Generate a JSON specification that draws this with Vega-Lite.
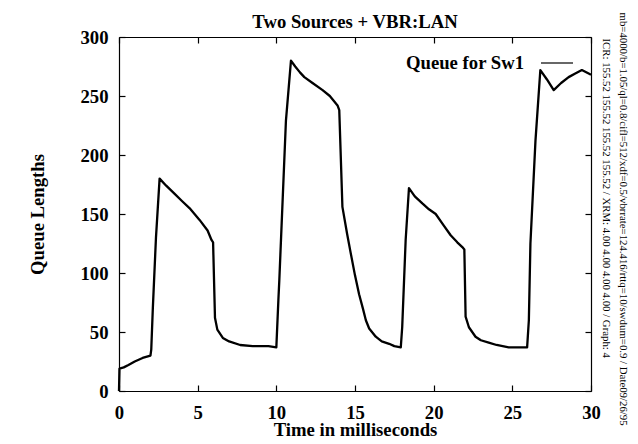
{
  "$schema": "https://vega.github.io/schema/vega-lite/v6.json",
  "width": 472,
  "height": 354,
  "autosize": {"type": "none"},
  "padding": {"left": 119, "top": 37, "right": 47, "bottom": 53},
  "background": "white",
  "view": {"stroke": null},
  "config": {
    "font": "Liberation Serif",
    "axis": {"grid": false, "domainColor": "#000", "tickColor": "#000", "labelColor": "#000", "titleColor": "#000", "tickSize": -6, "domainWidth": 1.2, "tickWidth": 1.2, "labelFlush": false, "labelOverlap": false}
  },
  "title": {"text": "Two Sources + VBR:LAN", "font": "Liberation Serif", "fontSize": 18.7, "fontWeight": "bold", "color": "#000", "anchor": "middle", "frame": "group", "baseline": "alphabetic", "offset": -35},
  "data": {"values": [
    {"t": 0, "q": 0}, {"t": 0.03, "q": 19}, {"t": 0.3, "q": 20}, {"t": 0.6, "q": 22}, {"t": 1.0, "q": 25}, {"t": 1.5, "q": 28}, {"t": 2.0, "q": 30},
    {"t": 2.05, "q": 35}, {"t": 2.15, "q": 70}, {"t": 2.35, "q": 130}, {"t": 2.58, "q": 180}, {"t": 3.0, "q": 174}, {"t": 3.54, "q": 167}, {"t": 4.0, "q": 161}, {"t": 4.48, "q": 155}, {"t": 5.12, "q": 145}, {"t": 5.63, "q": 136}, {"t": 5.88, "q": 128}, {"t": 5.98, "q": 126},
    {"t": 6.1, "q": 62}, {"t": 6.25, "q": 52}, {"t": 6.6, "q": 45}, {"t": 7.0, "q": 42}, {"t": 7.7, "q": 39}, {"t": 8.5, "q": 38}, {"t": 9.5, "q": 38}, {"t": 10.0, "q": 37},
    {"t": 10.13, "q": 77}, {"t": 10.19, "q": 94}, {"t": 10.61, "q": 229}, {"t": 10.93, "q": 280}, {"t": 11.2, "q": 275}, {"t": 11.5, "q": 270}, {"t": 11.78, "q": 266}, {"t": 12.3, "q": 261}, {"t": 12.94, "q": 255}, {"t": 13.4, "q": 250}, {"t": 13.89, "q": 242}, {"t": 14.0, "q": 238},
    {"t": 14.2, "q": 156}, {"t": 14.5, "q": 133}, {"t": 14.74, "q": 116}, {"t": 15.0, "q": 98}, {"t": 15.26, "q": 82}, {"t": 15.5, "q": 70}, {"t": 15.69, "q": 60}, {"t": 15.9, "q": 53}, {"t": 16.32, "q": 46}, {"t": 16.7, "q": 42}, {"t": 17.17, "q": 40}, {"t": 17.5, "q": 38}, {"t": 17.91, "q": 37},
    {"t": 18.0, "q": 54}, {"t": 18.22, "q": 128}, {"t": 18.43, "q": 172}, {"t": 18.8, "q": 165}, {"t": 19.28, "q": 159}, {"t": 19.7, "q": 154}, {"t": 20.13, "q": 150}, {"t": 20.6, "q": 141}, {"t": 21.08, "q": 132}, {"t": 21.5, "q": 126}, {"t": 21.82, "q": 122}, {"t": 21.95, "q": 120},
    {"t": 22.03, "q": 63}, {"t": 22.24, "q": 54}, {"t": 22.66, "q": 46}, {"t": 23.0, "q": 43}, {"t": 23.5, "q": 41}, {"t": 24.0, "q": 39}, {"t": 24.77, "q": 37}, {"t": 25.5, "q": 37}, {"t": 25.94, "q": 37},
    {"t": 26.05, "q": 60}, {"t": 26.15, "q": 125}, {"t": 26.47, "q": 212}, {"t": 26.78, "q": 272}, {"t": 27.2, "q": 264}, {"t": 27.63, "q": 255}, {"t": 28.1, "q": 261}, {"t": 28.58, "q": 266}, {"t": 29.0, "q": 269}, {"t": 29.42, "q": 272}, {"t": 29.85, "q": 269}, {"t": 30, "q": 268}
  ]},
  "layer": [
    {
      "mark": {"type": "line", "strokeWidth": 2.3, "strokeJoin": "round"},
      "encoding": {
        "x": {"field": "t", "type": "quantitative", "scale": {"domain": [0, 30], "nice": false},
          "axis": {"orient": "bottom", "values": [0, 5, 10, 15, 20, 25, 30], "labelFontSize": 18.7, "labelFontWeight": "bold", "labelPadding": 18, "labelBaseline": "top",
            "title": "Time in milliseconds", "titleFontSize": 18.7, "titleFontWeight": "bold", "titleX": 236, "titleY": 44, "titleAlign": "center", "titleBaseline": "alphabetic"}},
        "y": {"field": "q", "type": "quantitative", "scale": {"domain": [0, 300], "nice": false},
          "axis": {"orient": "left", "values": [0, 50, 100, 150, 200, 250, 300], "labelFontSize": 18.7, "labelFontWeight": "bold", "labelPadding": 17,
            "title": "Queue Lengths", "titleFontSize": 18.7, "titleFontWeight": "bold", "titleAngle": -90, "titleX": -82, "titleY": 177, "titleAlign": "center", "titleBaseline": "middle"}},
        "color": {"datum": "Queue for Sw1", "scale": {"range": ["#000"]},
          "legend": {"orient": "none", "legendX": 421, "legendY": 9, "padding": 0, "title": null, "symbolType": "stroke", "symbolSize": 1024, "symbolStrokeWidth": 1.2, "symbolStrokeColor": "#000",
            "labelAlign": "right", "labelOffset": -50, "labelFont": "Liberation Serif", "labelFontSize": 18.7, "labelFontWeight": "bold", "labelColor": "#000", "labelLimit": 300}}
      }
    },
    {
      "mark": {"type": "line", "strokeOpacity": 0},
      "encoding": {
        "x": {"field": "t", "type": "quantitative", "scale": {"domain": [0, 30], "nice": false},
          "axis": {"orient": "top", "values": [0, 5, 10, 15, 20, 25, 30], "labels": false, "title": null}},
        "y": {"field": "q", "type": "quantitative", "scale": {"domain": [0, 300], "nice": false},
          "axis": {"orient": "right", "values": [0, 50, 100, 150, 200, 250, 300], "labels": false,
            "title": "ICR: 155.52 155.52 155.52 155.52 / XRM: 4.00 4.00 4.00 4.00 / Graph: 4", "titleFontSize": 10.8, "titleFontWeight": "normal", "titleAngle": 90, "titleX": 14, "titleY": 1, "titleAlign": "left", "titleBaseline": "middle"}}
      }
    },
    {
      "mark": {"type": "line", "strokeOpacity": 0},
      "encoding": {
        "x": {"field": "t", "type": "quantitative", "scale": {"domain": [0, 30], "nice": false}, "axis": null},
        "y": {"field": "q", "type": "quantitative", "scale": {"domain": [0, 300], "nice": false},
          "axis": {"orient": "right", "domain": false, "ticks": false, "labels": false,
            "title": "mb=4000/b=1.05/ql=0.8/cifl=512/xdf=0.5/vbrrate=124.416/rttq=10/swdum=0.9 / Date09/26/95", "titleFontSize": 10.8, "titleFontWeight": "normal", "titleAngle": 90, "titleX": 31, "titleY": -25, "titleAlign": "left", "titleBaseline": "middle"}}
      }
    }
  ],
  "resolve": {"axis": {"x": "independent", "y": "independent"}}
}
